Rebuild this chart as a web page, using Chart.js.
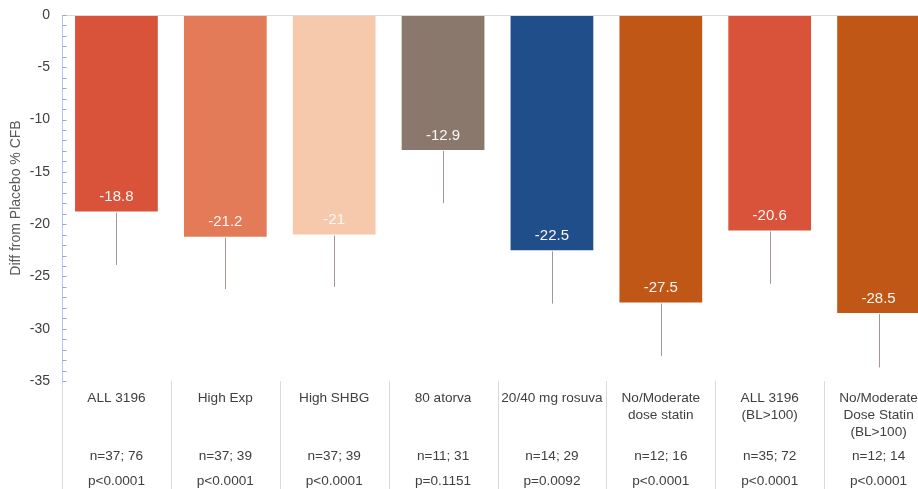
<!DOCTYPE html>
<html>
<head>
<meta charset="utf-8">
<script src="https://cdn.jsdelivr.net/npm/chart.js@4/dist/chart.umd.min.js"></script>
<style>
  html, body { margin: 0; padding: 0; background: #fff; overflow: hidden; width: 918px; height: 489px; }
  #wrap { width: 940px; height: 489px; position: relative; }
</style>
</head>
<body>
<div id="wrap"><canvas id="c" width="940" height="489"></canvas></div>
<script>
// Subgroup names (one entry per text line)
const categories = [
  ["ALL 3196"],
  ["High Exp"],
  ["High SHBG"],
  ["80 atorva"],
  ["20/40 mg rosuva"],
  ["No/Moderate", "dose statin"],
  ["ALL 3196", "(BL>100)"],
  ["No/Moderate", "Dose Statin", "(BL>100)"]
];
const sampleSizes = ["n=37; 76", "n=37; 39", "n=37; 39", "n=11; 31", "n=14; 29", "n=12; 16", "n=35; 72", "n=12; 14"];
const pValues = ["p<0.0001", "p<0.0001", "p<0.0001", "p=0.1151", "p=0.0092", "p<0.0001", "p<0.0001", "p<0.0001"];

// Difference from placebo in % change from baseline, and lower end of each error bar
const diffValues = [-18.8, -21.2, -21, -12.9, -22.5, -27.5, -20.6, -28.5];
const errorLows  = [-23.9, -26.2, -26.0, -18.0, -27.6, -32.6, -25.7, -33.7];

const barColors = ["#D9523A", "#E37B58", "#F6C9AD", "#8B786D", "#1F4E8B", "#C15716", "#D9523A", "#C15716"];
const yTitle = "Diff from Placebo % CFB";

const FONT = "'Liberation Sans', Arial, sans-serif";
const LEFT = 62;

// Axis line with small inward tick marks, zero line and label-area separators
const axisDecor = {
  id: 'axisDecor',
  afterDraw(chart) {
    const { ctx, chartArea: a, scales: { x, y } } = chart;
    const H = chart.height;
    ctx.save();
    ctx.strokeStyle = '#d9d9d9';
    ctx.lineWidth = 1;
    const zy = Math.round(y.getPixelForValue(0)) + 0.5;
    ctx.beginPath();
    ctx.moveTo(a.left, zy);
    ctx.lineTo(a.right, zy);
    ctx.stroke();
    const step = x.getPixelForValue(1) - x.getPixelForValue(0);
    for (let i = 0; i <= categories.length; i++) {
      const px = Math.round(x.getPixelForValue(i) - step / 2) + 0.5;
      ctx.beginPath();
      ctx.moveTo(px, a.bottom);
      ctx.lineTo(px, H);
      ctx.stroke();
    }
    const ax = Math.round(a.left) + 0.5;
    ctx.strokeStyle = '#b4c7e7';
    ctx.beginPath();
    ctx.moveTo(ax, a.top);
    ctx.lineTo(ax, a.bottom);
    ctx.stroke();
    ctx.strokeStyle = '#8faadc';
    for (let v = y.min; v <= y.max; v += 1) {
      const py = Math.round(y.getPixelForValue(v)) + 0.5;
      ctx.beginPath();
      ctx.moveTo(ax, py);
      ctx.lineTo(ax + 4, py);
      ctx.stroke();
    }
    ctx.restore();
  }
};

// Error whiskers below each bar and value labels inside each bar
const barExtras = {
  id: 'barExtras',
  afterDatasetsDraw(chart) {
    const { ctx, scales: { y } } = chart;
    const meta = chart.getDatasetMeta(0);
    ctx.save();
    meta.data.forEach((bar, i) => {
      const cx = Math.round(bar.x) + 0.5;
      ctx.strokeStyle = '#a3958f';
      ctx.lineWidth = 1;
      ctx.beginPath();
      ctx.moveTo(cx, bar.y + 1);
      ctx.lineTo(cx, y.getPixelForValue(errorLows[i]));
      ctx.stroke();

      ctx.fillStyle = '#fbf6f3';
      ctx.font = '15px ' + FONT;
      ctx.textAlign = 'center';
      ctx.textBaseline = 'middle';
      ctx.fillText(String(diffValues[i]), bar.x, bar.y - 14.5);
    });
    ctx.restore();
  }
};

// Category names, sample sizes and p-values under the plot
const categoryTable = {
  id: 'categoryTable',
  afterDraw(chart) {
    const { ctx, scales: { x } } = chart;
    ctx.save();
    ctx.fillStyle = '#404040';
    ctx.font = '13.6px ' + FONT;
    ctx.textAlign = 'center';
    ctx.textBaseline = 'middle';
    categories.forEach((lines, i) => {
      const cx = x.getPixelForValue(i);
      lines.forEach((t, j) => ctx.fillText(t, cx, 398 + j * 17));
      ctx.fillText(sampleSizes[i], cx, 456);
      ctx.fillText(pValues[i], cx, 481);
    });
    ctx.restore();
  }
};

new Chart(document.getElementById('c'), {
  type: 'bar',
  data: {
    labels: categories.map(l => l.join(' ')),
    datasets: [{
      data: diffValues,
      backgroundColor: barColors,
      borderWidth: 0,
      categoryPercentage: 1,
      barPercentage: 0.76
    }]
  },
  options: {
    responsive: false,
    animation: false,
    devicePixelRatio: 1,
    layout: { padding: { top: 15, right: 7, bottom: 108, left: 0 } },
    plugins: { legend: { display: false }, tooltip: { enabled: false } },
    scales: {
      x: { display: false },
      y: {
        min: -35,
        max: 0,
        border: { display: false },
        grid: { display: false, drawTicks: false },
        ticks: {
          stepSize: 1,
          autoSkip: false,
          padding: 12,
          color: '#404040',
          font: { size: 14, family: FONT },
          callback: v => (v % 5 === 0 ? String(v) : '')
        },
        title: {
          display: true,
          text: yTitle,
          color: '#595959',
          font: { size: 14, family: FONT },
          padding: { top: 8, bottom: 0 }
        },
        afterFit(scale) {
          scale.width = LEFT;
          scale.paddingTop = 0;
          scale.paddingBottom = 0;
        }
      }
    }
  },
  plugins: [axisDecor, barExtras, categoryTable]
});
</script>
</body>
</html>
